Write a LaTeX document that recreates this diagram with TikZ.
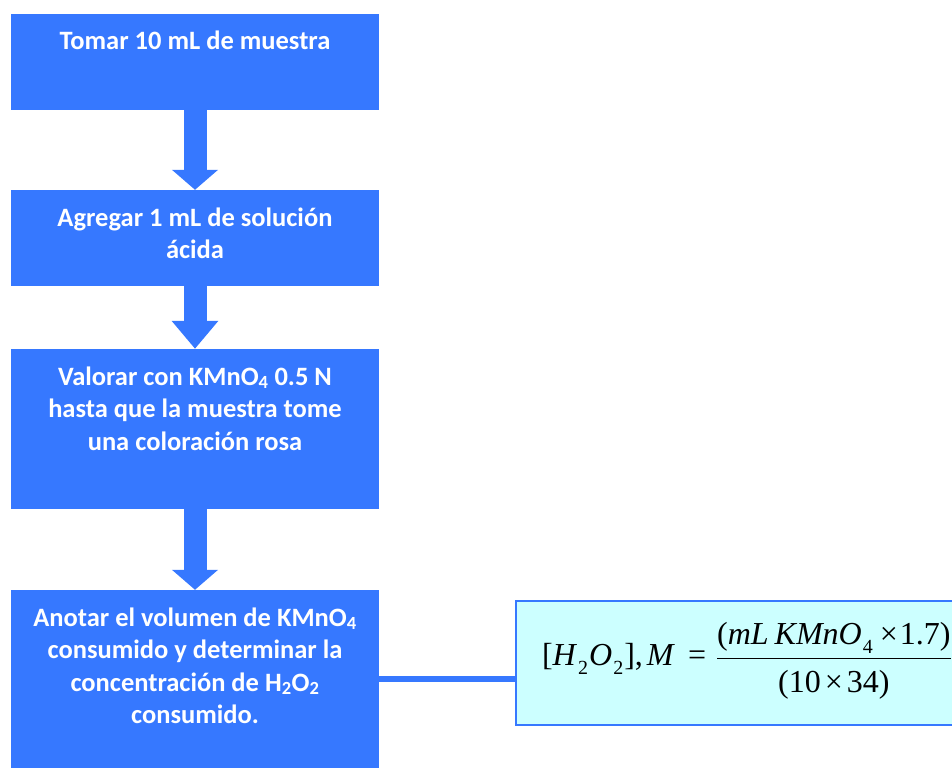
\documentclass[tikz,border=0pt]{standalone}
\usepackage{fontspec}
\setmainfont{Carlito}
\newfontfamily\eqfont{Liberation Serif}
\usetikzlibrary{arrows.meta}

\definecolor{flowblue}{RGB}{54,120,255}
\definecolor{eqcyan}{RGB}{204,255,255}

\newcommand{\steptext}[2]{\parbox[c][#1][t]{368pt}{\centering\rule{0pt}{36pt}#2}}
\newcommand{\eqsub}[1]{\hspace{1pt}\raisebox{-9pt}{\fontsize{20pt}{20pt}\selectfont #1}\hspace{1pt}}
\newcommand{\eqfrac}[2]{{\setlength{\arrayrulewidth}{1.4pt}\renewcommand{\arraystretch}{1.23}%
	\begin{tabular}{@{}c@{}}#1\\\hline #2\end{tabular}}}

\tikzset{
	flowbox/.style = {fill = flowblue, text = white, inner sep = 0pt,
		font = \fontsize{26.5pt}{32.5pt}\selectfont\bfseries},
	blockarrow/.style = {flowblue, line width = 23pt, -{Triangle[width = 45pt, length = #1]}},
	blockarrow/.default = 20pt,
	eqbox/.style = {draw = flowblue, line width = 2pt, fill = eqcyan, anchor = west,
		minimum height = 124pt, inner xsep = 26pt, inner ysep = 0pt,
		font = \eqfont\fontsize{32pt}{38pt}\selectfont}
}

\begin{document}
\begin{tikzpicture}[x = 1pt, y = -1pt]
	\useasboundingbox (0, 0) rectangle (952, 768) ;
	\clip (0, 0) rectangle (952, 768) ;
	\begin{scope} % Pasos
		\node [flowbox] (tomar) at (195, 62) {\steptext{96pt}{Tomar 10 mL de muestra}} ;
		\node [flowbox] (agregar) at (195, 238) {\steptext{96pt}{Agregar 1 mL de solución\\ácida}} ;
		\node [flowbox] (valorar) at (195, 429) {\steptext{160pt}{Valorar con KMnO\textsubscript{4} 0.5 N\\hasta que la muestra tome\\una coloración rosa}} ;
		\node [flowbox] (anotar) at (195, 679) {\steptext{178pt}{Anotar el volumen de KMnO\textsubscript{4}\\consumido y determinar la\\concentración de H\textsubscript{2}O\textsubscript{2}\\consumido.}} ;
	\end{scope}
	\draw [blockarrow] (tomar.south) -- (agregar.north) ;
	\draw [blockarrow = 28pt] (agregar.south) -- (valorar.north) ;
	\draw [blockarrow] (valorar.south) -- (anotar.north) ;
	% Formula
	\node [eqbox] (formula) at (515, 663) {\raisebox{-2pt}[0pt][0pt]{[\textit{H}\eqsub{2}\textit{O}\eqsub{2}],\hspace{4pt}\textit{M}\hspace{13pt}=\hspace{11pt}\eqfrac{(\textit{mL\hspace{6pt}KMnO}\eqsub{4}\hspace{6pt}×\hspace{2pt}1.7)}{(10\hspace{4pt}×\hspace{4pt}34)}}} ;
	\draw [flowblue, line width = 6pt] (anotar.east) -- (anotar.east -| formula.west) ;
\end{tikzpicture}
\end{document}
